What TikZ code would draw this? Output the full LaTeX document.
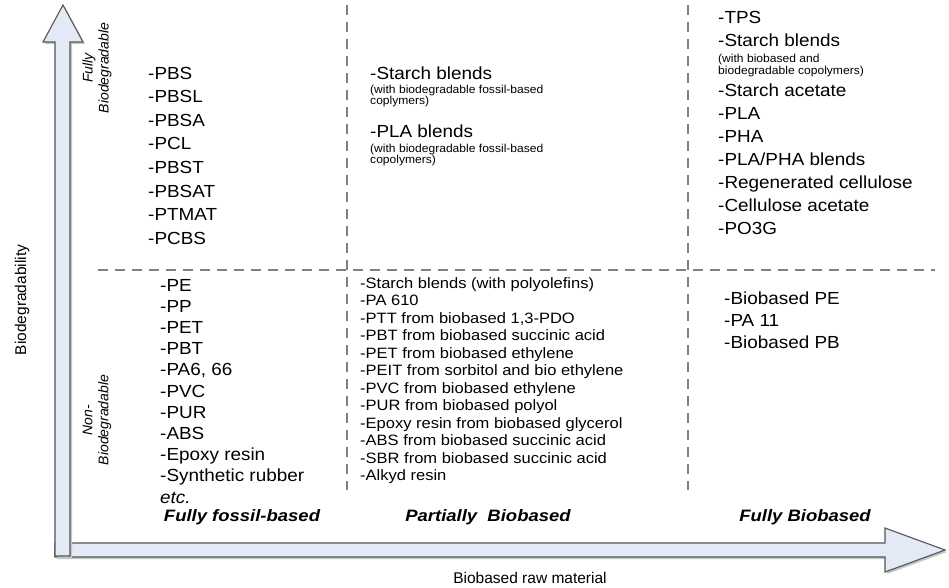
\documentclass[tikz,border=0pt]{standalone}
\usepackage{fontspec}
\setmainfont{Liberation Sans}
\definecolor{arrowfill}{HTML}{E3EAF5}
\definecolor{arrowline}{HTML}{555555}
\definecolor{dashgray}{HTML}{808080}
\begin{document}
\begin{tikzpicture}[x=1pt,y=-1pt,
  arrowbody/.style={fill=arrowfill, draw=arrowline, line width=1.1pt, line join=miter},
  shadowbody/.style={fill=black!22, draw=none},
  divider/.style={draw=dashgray, line width=2.6pt, dash pattern=on 10pt off 7pt},
  bigitem/.style={anchor=base west, inner sep=0pt, xscale=1.08, font=\fontsize{17.5}{20}\selectfont},
  miditem/.style={anchor=base west, inner sep=0pt, xscale=1.1, font=\fontsize{15}{17}\selectfont},
  smallitem/.style={anchor=base west, inner sep=0pt, xscale=1.05, font=\fontsize{11.5}{13}\selectfont},
  zonelabel/.style={rotate=90, align=center, inner sep=0pt, font=\fontsize{14}{16}\selectfont\itshape},
  xlabel/.style={inner sep=0pt, xscale=1.12, font=\fontsize{16.5}{18}\selectfont\itshape\bfseries},
  axislabel/.style={inner sep=0pt, font=\fontsize{15.5}{18}\selectfont}
]
\useasboundingbox (0,0) rectangle (949,587);

% dashed dividers
\draw[divider] (98,270) -- (935,270);
\draw[divider] (347,5) -- (347,490);
\draw[divider] (688,5) -- (688,490);

% horizontal arrow
\fill[shadowbody] (57,545) -- (887,545) -- (887,530) -- (947,552) -- (887,574) -- (887,559) -- (57,559) -- cycle;
\draw[arrowbody] (55,543) -- (885,543) -- (885,528) -- (945,550) -- (885,572) -- (885,557) -- (55,557) -- cycle;
% vertical arrow
\fill[shadowbody] (57,558) -- (57,44) -- (45,44) -- (65,7) -- (85,44) -- (72,44) -- (72,558) -- cycle;
\draw[arrowbody] (55,556) -- (55,42) -- (43,42) -- (63,5) -- (83,42) -- (70,42) -- (70,556) -- cycle;

% axis labels
\node[axislabel, rotate=90] (ylab) at (22,300) {Biodegradability};
\node[axislabel] (xlab) at (530,578) {Biobased raw material};
\node[zonelabel] (fullbio) at (97,68) {Fully\\Biodegradable};
\node[zonelabel] (nonbio) at (97,420) {Non-\\Biodegradable};
\node[xlabel] (fossil) at (242,517) {Fully fossil-based};
\node[xlabel] (partial) at (488,517) {Partially\ \ Biobased};
\node[xlabel] (fullbb) at (805,517) {Fully Biobased};

% left top
\foreach \t [count=\i] in {-PBS,-PBSL,-PBSA,-PCL,-PBST,-PBSAT,-PTMAT,-PCBS}
  \node[bigitem] (lt\i) at (148,{79+(\i-1)*23.6}) {\t};

% left bottom
\foreach \t [count=\i] in {-PE,-PP,-PET,-PBT,{-PA6, 66},-PVC,-PUR,-ABS,-Epoxy resin,-Synthetic rubber,\textit{etc.}}
  \node[bigitem] (lb\i) at (160,{291+(\i-1)*21.2}) {\t};

% middle top
\node[bigitem] (mt1) at (370,79) {-Starch blends};
\node[smallitem] (mt2) at (370,93) {(with biodegradable fossil-based};
\node[smallitem] (mt3) at (370,104) {coplymers)};
\node[bigitem] (mt4) at (370,137) {-PLA blends};
\node[smallitem] (mt5) at (370,152) {(with biodegradable fossil-based};
\node[smallitem] (mt6) at (370,163) {copolymers)};

% middle bottom
\foreach \t [count=\i] in {-Starch blends (with polyolefins),-PA 610,{-PTT from biobased 1,3-PDO},-PBT from biobased succinic acid,-PET from biobased ethylene,-PEIT from sorbitol and bio ethylene,-PVC from biobased ethylene,-PUR from biobased polyol,-Epoxy resin from biobased glycerol,-ABS from biobased succinic acid,-SBR from biobased succinic acid,-Alkyd resin}
  \node[miditem] (mb\i) at (360,{288+(\i-1)*17.5}) {\t};

% right top
\node[bigitem] (rt1) at (718,23) {-TPS};
\node[bigitem] (rt2) at (718,46) {-Starch blends};
\node[smallitem] (rt3) at (718,62) {(with biobased and};
\node[smallitem] (rt4) at (718,74) {biodegradable copolymers)};
\foreach \t [count=\i] in {-Starch acetate,-PLA,-PHA,-PLA/PHA blends,-Regenerated cellulose,-Cellulose acetate,-PO3G}
  \node[bigitem] (rtb\i) at (718,{96+(\i-1)*23}) {\t};

% right bottom
\foreach \t [count=\i] in {-Biobased PE,-PA 11,-Biobased PB}
  \node[bigitem] (rb\i) at (724,{304+(\i-1)*22}) {\t};
\end{tikzpicture}
\end{document}
